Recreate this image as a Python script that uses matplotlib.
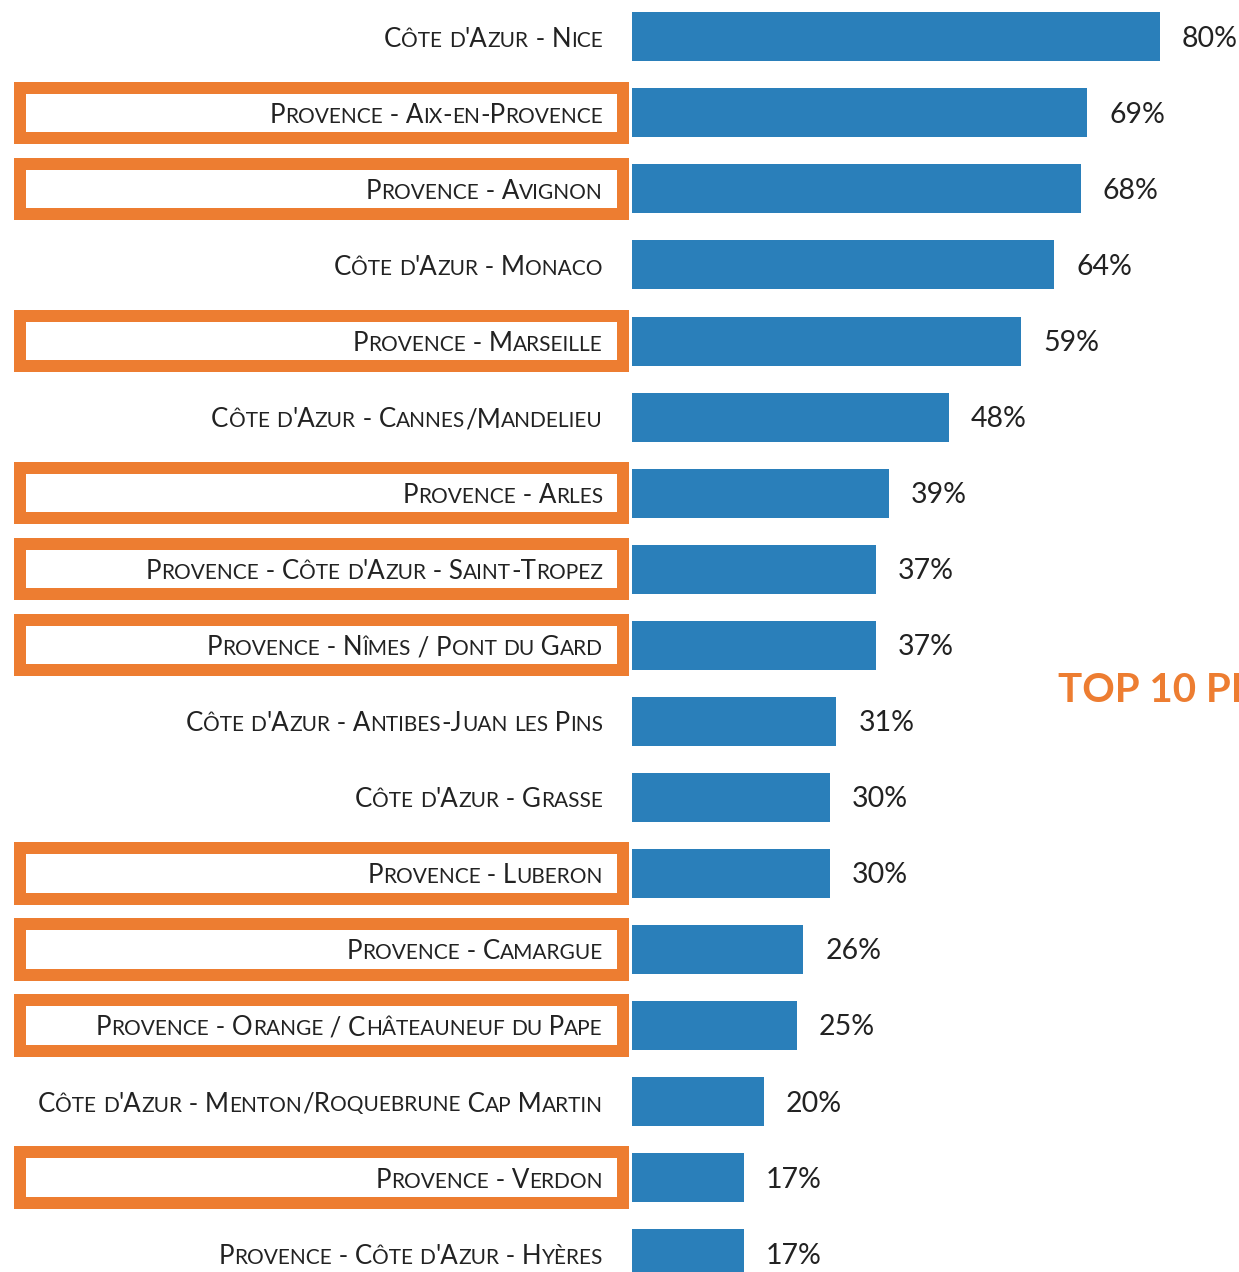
import matplotlib
matplotlib.use("Agg")
import matplotlib.pyplot as plt
import matplotlib.transforms as mtransforms
from matplotlib.patches import Rectangle

# ---------------- data ----------------
labels = [
    "Côte d'Azur - Nice",
    "Provence - Aix-en-Provence",
    "Provence - Avignon",
    "Côte d'Azur - Monaco",
    "Provence - Marseille",
    "Côte d'Azur - Cannes/Mandelieu",
    "Provence - Arles",
    "Provence - Côte d'Azur - Saint-Tropez",
    "Provence - Nîmes / Pont du Gard",
    "Côte d'Azur - Antibes-Juan les Pins",
    "Côte d'Azur - Grasse",
    "Provence - Luberon",
    "Provence - Camargue",
    "Provence - Orange / Châteauneuf du Pape",
    "Côte d'Azur - Menton/Roquebrune Cap Martin",
    "Provence - Verdon",
    "Provence - Côte d'Azur - Hyères",
]
values = [80, 69, 68, 64, 59, 48, 39, 37, 37, 31, 30, 30, 26, 25, 20, 17, 17]
boxed = [False, True, True, False, True, False, True, True, True,
         False, False, True, True, True, False, True, False]
side_title = "TOP 10 PROVENCE"

# ---------------- style ----------------
W, H = 1239, 1272
BAR = "#2A7FBA"
ORANGE = "#ED7D31"
TXT = "#222222"
FONT = ["Lato", "DejaVu Sans"]
BIG, SMALL = 18.6, 15.0
VAL = 20.5

fig = plt.figure(figsize=(W / 100, H / 100), dpi=100)
x0 = 631.5
ax = fig.add_axes([x0 / W, 0, 1 - x0 / W, 1])
px_per_pct = 6.606
row_px = 76.05
top_center = 36.8
ax.set_xlim(0, (W - x0) / px_per_pct)
ax.set_ylim((H - top_center) / row_px, -top_center / row_px)
ax.axis("off")

ypos = list(range(len(values)))
ax.barh(ypos, values, height=49 / row_px, color=BAR, edgecolor="none")

renderer = fig.canvas.get_renderer()
label_tr = mtransforms.blended_transform_factory(fig.transFigure, ax.transData)


def runs_of(s):
    runs = []
    for ch in s:
        small = ch.islower()
        c = ch.upper()
        if runs and runs[-1][1] == small:
            runs[-1][0] += c
        else:
            runs.append([c, small])
    return runs


def draw_smallcaps(text, x_fig, yrow):
    off = 0.0
    for run, small in reversed(runs_of(text)):
        tr = mtransforms.offset_copy(label_tr, fig=fig, x=-off, y=-10, units="dots")
        t = ax.text(x_fig, yrow, run, transform=tr, ha="right", va="baseline",
                    fontsize=SMALL if small else BIG, family=FONT, color=TXT,
                    clip_on=False)
        off += t.get_window_extent(renderer).width


for i, (lab, v, b) in enumerate(zip(labels, values, boxed)):
    draw_smallcaps(lab, 603 / W, i)
    tr = mtransforms.offset_copy(ax.transData, fig=fig, x=22, y=-10, units="dots")
    ax.text(v, i, f"{v}%", transform=tr, ha="left", va="baseline",
            fontsize=VAL, family=FONT, color=TXT, clip_on=False)
    if b:
        h = 50.5 / row_px
        r = Rectangle((20 / W, i - h / 2), 603 / W, h, transform=label_tr,
                      fill=False, edgecolor=ORANGE, lw=12 * 0.72,
                      joinstyle="miter", clip_on=False)
        ax.add_patch(r)

fig.text(1058 / W, 1 - 702 / H, side_title, color=ORANGE, fontsize=29,
         fontweight="bold", family=FONT, ha="left", va="baseline")

fig.savefig("out.png", dpi=100)
